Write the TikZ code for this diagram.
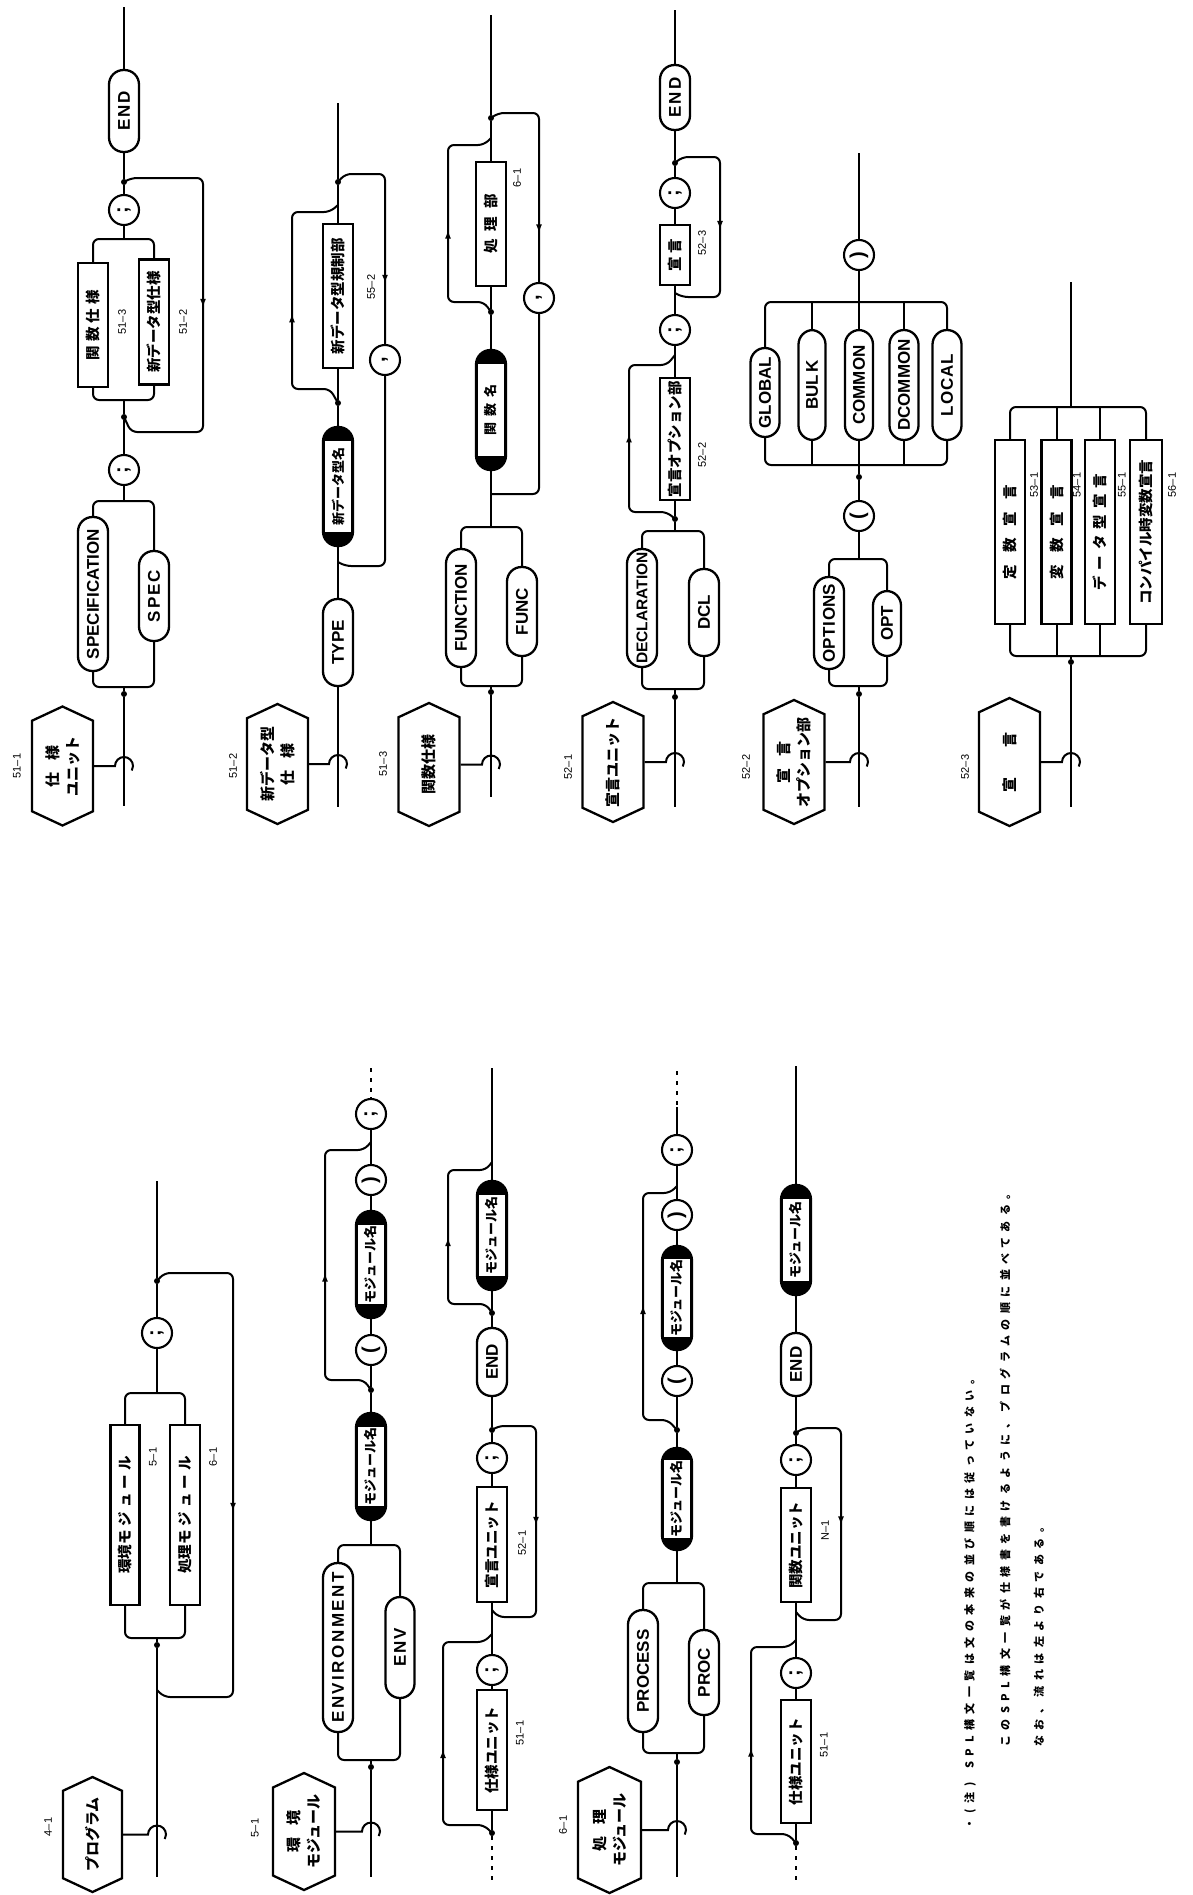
\documentclass[tikz,border=0pt]{standalone}
\usepackage{fontspec}
\setmainfont{Liberation Sans}
\newfontfamily\jpf{Noto Sans CJK JP}
\newfontfamily\jpsp[LetterSpace=50]{Noto Sans CJK JP}
\usetikzlibrary{shapes.symbols,decorations.markings,arrows.meta}
\newcommand\kwf{\bfseries\fontsize{17}{17}\selectfont}
\newcommand\bxf{\jpf\bfseries\fontsize{14.5}{14.5}\selectfont}
\newcommand\idf{\jpf\bfseries\fontsize{13}{13}\selectfont}
\newcommand\hexf{\jpf\bfseries\fontsize{15}{20}\selectfont}
\newcommand\labf{\fontsize{11}{11}\selectfont}
\newcommand\cirf{\bfseries\fontsize{20}{20}\selectfont}
\newcommand\ftnf{\jpsp\bfseries\fontsize{11}{11}\selectfont}
\tikzset{
 ln/.style={line width=2pt},
 cont/.style={line width=2pt,dash pattern=on 4pt off 6pt},
 midarrow/.style={postaction={decorate,decoration={markings,mark=at position #1 with {\arrow{Latex[length=9pt,width=6pt]}}}}},
 kw/.style={draw,line width=2.3pt,rectangle,rounded corners=14.5pt,rotate=90,fill=white,inner sep=0pt,minimum height=30pt,font=\kwf},
 bx/.style={draw,line width=2.3pt,rectangle,rotate=90,fill=white,inner sep=0pt,minimum height=30pt,font=\bxf},
 idn/.style={draw,line width=2.3pt,rectangle,rounded corners=14.5pt,rotate=90,fill=black,inner sep=0pt,minimum height=30pt},
 idt/.style={rectangle,rotate=90,fill=white,inner sep=0pt,minimum height=25.5pt,font=\idf},
 cir/.style={draw,circle,line width=2.1pt,rotate=90,fill=white,minimum size=30pt,inner sep=0pt,font=\cirf},
 hexa/.style={draw,line width=2.3pt,signal,signal to=east and west,signal pointer angle=130,rotate=90,fill=white,inner sep=0pt,minimum height=61pt,align=center,font=\hexf},
 jdot/.style={circle,fill=black,inner sep=0pt,minimum size=6pt},
 lab/.style={rotate=90,inner sep=0pt,font=\labf},
 ftn/.style={rotate=90,inner sep=0pt,anchor=west,font=\ftnf},
}
\begin{document}
\begin{tikzpicture}[x=1pt,y=1pt]
\fill[white] (0,0) rectangle (1192,-1895);
\useasboundingbox (0,0) rectangle (1192,-1895);

% ===== 51-1 =====
\coordinate (a1top) at (124,-7);
\node[kw,minimum width=82pt] (a1end) at (124,-111) {E\kern2pt N\kern2pt D};
\node[jdot] (a1j1) at (124,-182) {};
\node[cir] (a1c1) at (124,-210) {;};
\coordinate (a1s1) at (124,-239);
\node[bx,minimum width=124pt] (a1b1) at (93,-325) {関\hspace{4pt}数\hspace{4pt}仕\hspace{4pt}様};
\node[bx,minimum width=125pt] (a1b2) at (154,-322) {新データ型仕様};
\node[lab] (a1l2) at (122,-322) {51--3};
\node[lab] (a1l3) at (183,-322) {51--2};
\coordinate (a1m1) at (124,-400);
\node[jdot] (a1j2) at (124,-417) {};
\node[cir] (a1c2) at (124,-470) {;};
\coordinate (a1s2) at (124,-501);
\node[kw,minimum width=154pt] (a1k1) at (93,-594) {SPECIFICATION};
\node[kw,minimum width=90pt] (a1k2) at (154,-596) {S\kern2pt P\kern2pt E\kern2pt C};
\coordinate (a1m2) at (124,-687);
\node[jdot] (a1j3) at (124,-694) {};
\coordinate (a1bot) at (124,-806);
\node[hexa,minimum width=119pt] (a1h) at (62.5,-766) {仕\hspace{12pt}様\\ユニット};
\node[lab] (a1l1) at (17,-766) {51--1};
\draw[ln] (a1top) -- (a1end) -- (a1j1) -- (a1c1) -- (a1s1);
\draw[ln,rounded corners=6pt] (a1b1.east) |- (a1s1) -| (a1b2.east);
\draw[ln,rounded corners=6pt] (a1b1.west) |- (a1m1) -| (a1b2.west);
\draw[ln] (a1m1) -- (a1j2) -- (a1c2) -- (a1s2);
\draw[ln,rounded corners=6pt] (a1k1.east) |- (a1s2) -| (a1k2.east);
\draw[ln,rounded corners=6pt] (a1k1.west) |- (a1m2) -| (a1k2.west);
\draw[ln] (a1m2) -- (a1j3) -- (a1bot);
\draw[ln,rounded corners=6pt,midarrow=207pt] (a1j1.center) -- (131,-178) -- (203,-178) -- (203,-432) -- (131,-432) -- (a1j2.center);
\draw[ln] (a1h.south) -- (115,-766) arc[start angle=180,end angle=-30,radius=9];

% ===== 51-2 =====
\coordinate (a2top) at (338,-103);
\node[jdot] (a2j1) at (338,-182) {};
\node[bx,minimum width=144pt] (a2b1) at (338,-296) {新データ型規制部};
\node[lab] (a2l2) at (371,-287) {55--2};
\node[jdot] (a2j2) at (338,-403) {};
\node[idn,minimum width=119pt] (a2n1) at (338,-486.5) {};
\node[idt,minimum width=91pt] (a2n1t) at (338,-486.5) {新データ型名};
\coordinate (a2m2) at (338,-562);
\node[kw,minimum width=87pt] (a2k1) at (338,-642.5) {TYPE};
\coordinate (a2bot) at (338,-807);
\node[cir] (a2c1) at (385,-360) {,};
\node[hexa,minimum width=120pt] (a2h) at (277.5,-764) {新データ型\\仕\hspace{12pt}様};
\node[lab] (a2l1) at (233,-766) {51--2};
\draw[ln] (a2top) -- (a2j1) -- (a2b1) -- (a2j2) -- (a2n1) -- (a2k1) -- (a2bot);
\draw[ln,rounded corners=6pt,midarrow=126pt] (a2j2.center) -- (330,-389) -- (292,-389) -- (292,-212) -- (330,-212) -- (338,-205);
\draw[ln,rounded corners=6pt,midarrow=157pt] (a2j1.center) -- (345,-174) -- (385,-174) -- (a2c1);
\draw[ln,rounded corners=6pt] (a2c1) -- (385,-566) -- (345,-566) -- (a2m2);
\draw[ln] (a2h.south) -- (329,-764) arc[start angle=180,end angle=-30,radius=9];

% ===== 51-3 =====
\coordinate (a3top) at (491,-15);
\node[jdot] (a3j1) at (491,-118) {};
\node[bx,minimum width=124pt] (a3b1) at (491,-224) {処\hspace{8pt}理\hspace{8pt}部};
\node[lab] (a3l2) at (517,-178) {6--1};
\node[jdot] (a3j2) at (491,-312) {};
\node[idn,minimum width=120pt] (a3n1) at (491,-410) {};
\node[idt,minimum width=92pt] (a3n1t) at (491,-410) {関\hspace{6pt}数\hspace{6pt}名};
\coordinate (a3m2) at (491,-494);
\coordinate (a3s1) at (491,-527);
\node[kw,minimum width=118pt] (a3k1) at (461,-608) {FUNCTION};
\node[kw,minimum width=89pt] (a3k2) at (522,-611.5) {FUNC};
\coordinate (a3m1) at (491,-686);
\node[jdot] (a3j3) at (491,-692) {};
\coordinate (a3bot) at (491,-797);
\node[cir] (a3c1) at (539,-298) {,};
\node[hexa,minimum width=123pt] (a3h) at (429,-764.5) {関数仕様};
\node[lab] (a3l1) at (383,-764) {51--3};
\draw[ln] (a3top) -- (a3j1) -- (a3b1) -- (a3j2) -- (a3n1) -- (a3s1);
\draw[ln,rounded corners=6pt] (a3k1.east) |- (a3s1) -| (a3k2.east);
\draw[ln,rounded corners=6pt] (a3k1.west) |- (a3m1) -| (a3k2.west);
\draw[ln] (a3m1) -- (a3j3) -- (a3bot);
\draw[ln,rounded corners=6pt,midarrow=117pt] (a3j2.center) -- (484,-302) -- (448,-302) -- (448,-145) -- (484,-145) -- (491,-138);
\draw[ln,rounded corners=6pt,midarrow=167pt] (a3j1.center) -- (498,-113) -- (539,-113) -- (a3c1);
\draw[ln,rounded corners=6pt] (a3c1) -- (539,-494) -- (498,-494) -- (a3m2);
\draw[ln] (a3h.south) -- (482,-764.5) arc[start angle=180,end angle=-30,radius=9];

% ===== 52-1 =====
\coordinate (b1top) at (675,-10);
\node[kw,minimum width=65pt] (b1end) at (675,-97.5) {E\kern2pt N\kern2pt D};
\node[jdot] (b1j1) at (675,-163) {};
\node[cir] (b1c1) at (675,-193) {;};
\node[bx,minimum width=60pt] (b1b1) at (675,-255) {宣\hspace{4pt}言};
\node[lab] (b1l2) at (702,-243) {52--3};
\coordinate (b1m1) at (675,-293);
\node[cir] (b1c2) at (675,-330) {;};
\node[bx,minimum width=122pt] (b1b2) at (675,-439) {宣言オプション部};
\node[lab] (b1l3) at (702,-455) {52--2};
\node[jdot] (b1j2) at (675,-519) {};
\coordinate (b1s1) at (675,-531);
\node[kw,minimum width=118pt,font=\bfseries\fontsize{15.5}{15.5}\selectfont] (b1k1) at (642,-608) {DECLARATION};
\node[kw,minimum width=87pt] (b1k2) at (704,-612.5) {DCL};
\coordinate (b1m2) at (675,-689);
\node[jdot] (b1j3) at (675,-697) {};
\coordinate (b1bot) at (675,-807);
\node[hexa,minimum width=120pt] (b1h) at (613,-762) {宣言ユニット};
\node[lab] (b1l1) at (568,-767) {52--1};
\draw[ln] (b1top) -- (b1end) -- (b1j1) -- (b1c1) -- (b1b1) -- (b1c2) -- (b1b2) -- (b1j2) -- (b1s1);
\draw[ln,rounded corners=6pt] (b1k1.east) |- (b1s1) -| (b1k2.east);
\draw[ln,rounded corners=6pt] (b1k1.west) |- (b1m2) -| (b1k2.west);
\draw[ln] (b1m2) -- (b1j3) -- (b1bot);
\draw[ln,rounded corners=6pt,midarrow=117pt] (b1j1.center) -- (682,-157) -- (720,-157) -- (720,-297) -- (682,-297) -- (b1m1);
\draw[ln,rounded corners=6pt,midarrow=124pt] (b1j2.center) -- (667,-512) -- (629,-512) -- (629,-365) -- (667,-365) -- (675,-355);
\draw[ln] (b1h.south) -- (666,-762) arc[start angle=180,end angle=-30,radius=9];

% ===== 52-2 =====
\coordinate (b2top) at (859,-153);
\node[cir] (b2c1) at (859,-255) {)};
\coordinate (b2s1) at (859,-302);
\node[kw,minimum width=89pt,minimum height=29pt] (b2k1) at (765,-392.5) {GLOBAL};
\node[kw,minimum width=110pt,minimum height=27pt] (b2k2) at (812,-385) {BUL\kern2pt K};
\node[kw,minimum width=110pt,minimum height=28pt] (b2k3) at (859,-385) {COMMON};
\node[kw,minimum width=110pt,minimum height=29pt] (b2k4) at (904,-385) {DCOMMON};
\node[kw,minimum width=110pt,minimum height=29pt] (b2k5) at (947,-385) {L\kern1pt O\kern1pt C\kern1pt A\kern1pt L};
\coordinate (b2m1) at (859,-465);
\node[jdot] (b2j1) at (859,-477) {};
\node[cir] (b2c2) at (859,-516) {(};
\coordinate (b2s2) at (859,-559);
\node[kw,minimum width=92pt] (b2k6) at (829,-623) {OPT\kern1pt I\kern1pt ONS};
\node[kw,minimum width=65pt,minimum height=28pt] (b2k7) at (887,-623.5) {OPT};
\coordinate (b2m2) at (859,-686);
\node[jdot] (b2j2) at (859,-694) {};
\coordinate (b2bot) at (859,-807);
\node[hexa,minimum width=124pt] (b2h) at (794,-762) {宣\hspace{12pt}言\\オプション部};
\node[lab] (b2l1) at (746,-767) {52--2};
\draw[ln] (b2top) -- (b2c1) -- (b2s1);
\draw[ln,rounded corners=6pt] (b2k1.east) |- (b2s1) -| (b2k5.east);
\draw[ln] (b2k2.east) -- (b2k2.east |- b2s1);
\draw[ln] (b2k3.east) -- (b2s1);
\draw[ln] (b2k4.east) -- (b2k4.east |- b2s1);
\draw[ln,rounded corners=6pt] (b2k1.west) |- (b2m1) -| (b2k5.west);
\draw[ln] (b2k2.west) -- (b2k2.west |- b2m1);
\draw[ln] (b2k3.west) -- (b2m1);
\draw[ln] (b2k4.west) -- (b2k4.west |- b2m1);
\draw[ln] (b2m1) -- (b2j1) -- (b2c2) -- (b2s2);
\draw[ln,rounded corners=6pt] (b2k6.east) |- (b2s2) -| (b2k7.east);
\draw[ln,rounded corners=6pt] (b2k6.west) |- (b2m2) -| (b2k7.west);
\draw[ln] (b2m2) -- (b2j2) -- (b2bot);
\draw[ln] (b2h.south) -- (850,-762) arc[start angle=180,end angle=-30,radius=9];

% ===== 52-3 =====
\coordinate (b3top) at (1071,-282);
\coordinate (b3s1) at (1071,-407);
\node[bx,minimum width=184pt] (b3b1) at (1010,-532) {定\hspace{12pt}数\hspace{12pt}宣\hspace{12pt}言};
\node[bx,minimum width=184pt] (b3b2) at (1056.5,-532) {変\hspace{12pt}数\hspace{12pt}宣\hspace{12pt}言};
\node[bx,minimum width=184pt] (b3b3) at (1100,-532) {デ\hspace{6pt}ー\hspace{6pt}タ\hspace{6pt}型\hspace{6pt}宣\hspace{6pt}言};
\node[bx,minimum width=184pt,minimum height=32pt] (b3b4) at (1146,-532) {コンパイル時変数宣言};
\node[lab] (b3l2) at (1034,-485) {53--1};
\node[lab] (b3l3) at (1077,-485) {54--1};
\node[lab] (b3l4) at (1122,-485) {55--1};
\node[lab] (b3l5) at (1172,-485) {56--1};
\coordinate (b3m1) at (1071,-656);
\node[jdot] (b3j1) at (1071,-662) {};
\coordinate (b3bot) at (1071,-807);
\node[hexa,minimum width=128pt] (b3h) at (1009.5,-762) {宣\hspace{30pt}言};
\node[lab] (b3l1) at (965,-767) {52--3};
\draw[ln] (b3top) -- (b3s1);
\draw[ln,rounded corners=6pt] (b3b1.east) |- (b3s1) -| (b3b4.east);
\draw[ln] (b3b2.east) -- (b3b2.east |- b3s1);
\draw[ln] (b3b3.east) -- (b3b3.east |- b3s1);
\draw[ln,rounded corners=6pt] (b3b1.west) |- (b3m1) -| (b3b4.west);
\draw[ln] (b3b2.west) -- (b3b2.west |- b3m1);
\draw[ln] (b3b3.west) -- (b3b3.west |- b3m1);
\draw[ln] (b3m1) -- (b3j1) -- (b3bot);
\draw[ln] (b3h.south) -- (1062,-762) arc[start angle=180,end angle=-30,radius=9];

% ===== 4-1 =====
\coordinate (c1top) at (157,-1181);
\node[jdot] (c1j1) at (157,-1281) {};
\node[cir] (c1c1) at (157,-1333) {;};
\coordinate (c1s1) at (157,-1393);
\node[bx,minimum width=180pt,minimum height=29pt] (c1b1) at (125,-1515) {環境モ\hspace{4pt}ジ\hspace{4pt}ュ\hspace{4pt}ー\hspace{4pt}ル};
\node[bx,minimum width=180pt] (c1b2) at (185,-1515) {処理モ\hspace{4pt}ジ\hspace{4pt}ュ\hspace{4pt}ー\hspace{4pt}ル};
\node[lab] (c1l2) at (153,-1457) {5--1};
\node[lab] (c1l3) at (213,-1457) {6--1};
\coordinate (c1m1) at (157,-1638);
\node[jdot] (c1j2) at (157,-1645) {};
\coordinate (c1bot) at (157,-1877);
\node[hexa,minimum width=115pt,minimum height=59pt] (c1h) at (92.5,-1834.5) {プログラム};
\node[lab] (c1l1) at (48,-1827) {4--1};
\draw[ln] (c1top) -- (c1j1) -- (c1c1) -- (c1s1);
\draw[ln,rounded corners=6pt] (c1b1.east) |- (c1s1) -| (c1b2.east);
\draw[ln,rounded corners=6pt] (c1b1.west) |- (c1m1) -| (c1b2.west);
\draw[ln] (c1m1) -- (c1j2) -- (c1bot);
\draw[ln,rounded corners=6pt,midarrow=315pt] (c1j1.center) -- (164,-1273) -- (233,-1273) -- (233,-1697) -- (164,-1697) -- (157,-1690);
\draw[ln] (c1h.south) -- (148,-1834.5) arc[start angle=180,end angle=-30,radius=9];

% ===== 5-1 row 1 =====
\coordinate (d1top) at (371,-1068);
\coordinate (d1t2) at (371,-1097);
\node[cir] (d1c1) at (371,-1114) {;};
\node[cir] (d1c2) at (371,-1180) {)};
\node[idn,minimum width=107pt] (d1n1) at (371,-1264.5) {};
\node[idt,minimum width=79pt] (d1n1t) at (371,-1264.5) {モジュール名};
\node[cir] (d1c3) at (371,-1350) {(};
\node[jdot] (d1j1) at (371,-1390) {};
\node[idn,minimum width=107pt] (d1n2) at (371,-1466.5) {};
\node[idt,minimum width=79pt] (d1n2t) at (371,-1466.5) {モジュール名};
\coordinate (d1s1) at (371,-1545);
\node[kw,minimum width=169pt] (d1k1) at (338,-1647.5) {E\kern2.5pt N\kern2.5pt V\kern2.5pt I\kern2.5pt R\kern2.5pt O\kern2.5pt N\kern2.5pt M\kern2.5pt E\kern2.5pt N\kern2.5pt T};
\node[kw,minimum width=101pt,minimum height=29pt] (d1k2) at (400,-1647.5) {E\kern2pt N\kern2pt V};
\coordinate (d1m1) at (371,-1760);
\node[jdot] (d1j2) at (371,-1767) {};
\coordinate (d1bot) at (371,-1877);
\node[hexa,minimum width=117pt,minimum height=62pt] (d1h) at (304,-1831.5) {環\hspace{12pt}境\\モジュール};
\node[lab] (d1l1) at (255,-1828) {5--1};
\draw[cont] (d1top) -- (d1t2);
\draw[ln] (d1t2) -- (d1c1) -- (d1c2) -- (d1n1) -- (d1c3) -- (d1j1) -- (d1n2) -- (d1s1);
\draw[ln,rounded corners=6pt] (d1k1.east) |- (d1s1) -| (d1k2.east);
\draw[ln,rounded corners=6pt] (d1k1.west) |- (d1m1) -| (d1k2.west);
\draw[ln] (d1m1) -- (d1j2) -- (d1bot);
\draw[ln,rounded corners=6pt,midarrow=155pt] (d1j1.center) -- (364,-1380) -- (325,-1380) -- (325,-1150) -- (364,-1150) -- (371,-1142);
\draw[ln] (d1h.south) -- (362,-1831.5) arc[start angle=180,end angle=-30,radius=9];

% ===== 5-1 row 2 =====
\coordinate (d2top) at (492,-1068);
\node[idn,minimum width=109pt] (d2n1) at (492,-1235.5) {};
\node[idt,minimum width=81pt] (d2n1t) at (492,-1235.5) {モジュール名};
\node[jdot] (d2j1) at (492,-1313) {};
\node[kw,minimum width=68pt] (d2end) at (492,-1362) {END};
\node[jdot] (d2j2) at (492,-1430) {};
\node[cir] (d2c1) at (492,-1458) {;};
\node[bx,minimum width=115pt] (d2b1) at (492,-1544.5) {宣言ユニット};
\node[lab] (d2l1) at (522,-1543) {52--1};
\coordinate (d2m1) at (492,-1610);
\node[cir] (d2c2) at (492,-1670) {;};
\node[bx,minimum width=120pt] (d2b2) at (492,-1750) {仕様ユニット};
\node[lab] (d2l2) at (520,-1733) {51--1};
\node[jdot] (d2j3) at (492,-1833) {};
\coordinate (d2bot) at (492,-1880);
\draw[ln] (d2top) -- (d2n1) -- (d2j1) -- (d2end) -- (d2j2) -- (d2c1) -- (d2b1) -- (d2c2) -- (d2b2) -- (d2j3);
\draw[cont] (d2j3) -- (d2bot);
\draw[ln,rounded corners=6pt,midarrow=112pt] (d2j1.center) -- (486,-1304) -- (448,-1304) -- (448,-1170) -- (486,-1170) -- (492,-1162);
\draw[ln,rounded corners=6pt,midarrow=142pt] (d2j2.center) -- (498,-1426) -- (536,-1426) -- (536,-1617) -- (498,-1617) -- (d2m1);
\draw[ln,rounded corners=6pt,midarrow=125pt] (d2j3.center) -- (484,-1825) -- (443,-1825) -- (443,-1642) -- (484,-1642) -- (492,-1634);

% ===== 6-1 row 1 =====
\coordinate (e1top) at (677,-1071);
\coordinate (e1t2) at (677,-1107);
\node[cir] (e1c1) at (677,-1150) {;};
\node[cir] (e1c2) at (677,-1215) {)};
\node[idn,minimum width=104pt] (e1n1) at (677,-1298) {};
\node[idt,minimum width=76pt] (e1n1t) at (677,-1298) {モジュール名};
\node[cir] (e1c3) at (677,-1381) {(};
\node[jdot] (e1j1) at (677,-1430) {};
\node[idn,minimum width=102pt] (e1n2) at (677,-1499) {};
\node[idt,minimum width=74pt] (e1n2t) at (677,-1499) {モジュール名};
\coordinate (e1s1) at (677,-1583);
\node[kw,minimum width=122pt] (e1k1) at (643,-1671) {PROCESS};
\node[kw,minimum width=85pt] (e1k2) at (704,-1672.5) {PROC};
\coordinate (e1m1) at (677,-1753);
\node[jdot] (e1j2) at (677,-1762) {};
\coordinate (e1bot) at (677,-1877);
\node[hexa,minimum width=126pt,minimum height=63pt] (e1h) at (609.5,-1830) {処\hspace{12pt}理\\モジュール};
\node[lab] (e1l1) at (563,-1825) {6--1};
\draw[cont] (e1top) -- (e1t2);
\draw[ln] (e1t2) -- (e1c1) -- (e1c2) -- (e1n1) -- (e1c3) -- (e1j1) -- (e1n2) -- (e1s1);
\draw[ln,rounded corners=6pt] (e1k1.east) |- (e1s1) -| (e1k2.east);
\draw[ln,rounded corners=6pt] (e1k1.west) |- (e1m1) -| (e1k2.west);
\draw[ln] (e1m1) -- (e1j2) -- (e1bot);
\draw[ln,rounded corners=6pt,midarrow=150pt] (e1j1.center) -- (668,-1420) -- (643,-1420) -- (643,-1193) -- (670,-1193) -- (677,-1186);
\draw[ln] (e1h.south) -- (668,-1830) arc[start angle=180,end angle=-30,radius=9];

% ===== 6-1 row 2 =====
\coordinate (e2top) at (796,-1066);
\node[idn,minimum width=110pt] (e2n1) at (796,-1240) {};
\node[idt,minimum width=82pt] (e2n1t) at (796,-1240) {モジュール名};
\node[kw,minimum width=63pt] (e2end) at (796,-1364.5) {END};
\node[jdot] (e2j1) at (796,-1433) {};
\node[cir] (e2c1) at (796,-1460) {;};
\node[bx,minimum width=114pt] (e2b1) at (796,-1545) {関数ユニット};
\node[lab] (e2l1) at (825,-1530) {N--1};
\coordinate (e2m1) at (796,-1612);
\node[cir] (e2c2) at (796,-1673) {;};
\node[bx,minimum width=123pt] (e2b2) at (796,-1761.5) {仕様ユニット};
\node[lab] (e2l2) at (824,-1745) {51--1};
\node[jdot] (e2j2) at (796,-1843) {};
\coordinate (e2bot) at (796,-1882);
\draw[ln] (e2top) -- (e2n1) -- (e2end) -- (e2j1) -- (e2c1) -- (e2b1) -- (e2c2) -- (e2b2) -- (e2j2);
\draw[cont] (e2j2) -- (e2bot);
\draw[ln,rounded corners=6pt,midarrow=141pt] (e2j1.center) -- (803,-1428) -- (841,-1428) -- (841,-1620) -- (803,-1620) -- (e2m1);
\draw[ln,rounded corners=6pt,midarrow=132pt] (e2j2.center) -- (788,-1834) -- (751,-1834) -- (751,-1647) -- (789,-1647) -- (796,-1640);

% ===== footnote =====
\node[ftn] (n1) at (970,-1830) {・(注)\hspace{14pt}SPL構文一覧は文の本来の並び順には従っていない。};
\node[ftn] (n2) at (1005,-1747) {このSPL構文一覧が仕様書を書けるように、プログラムの順に並べてある。};
\node[ftn] (n3) at (1039,-1747) {なお、流れは左より右である。};
\end{tikzpicture}
\end{document}
